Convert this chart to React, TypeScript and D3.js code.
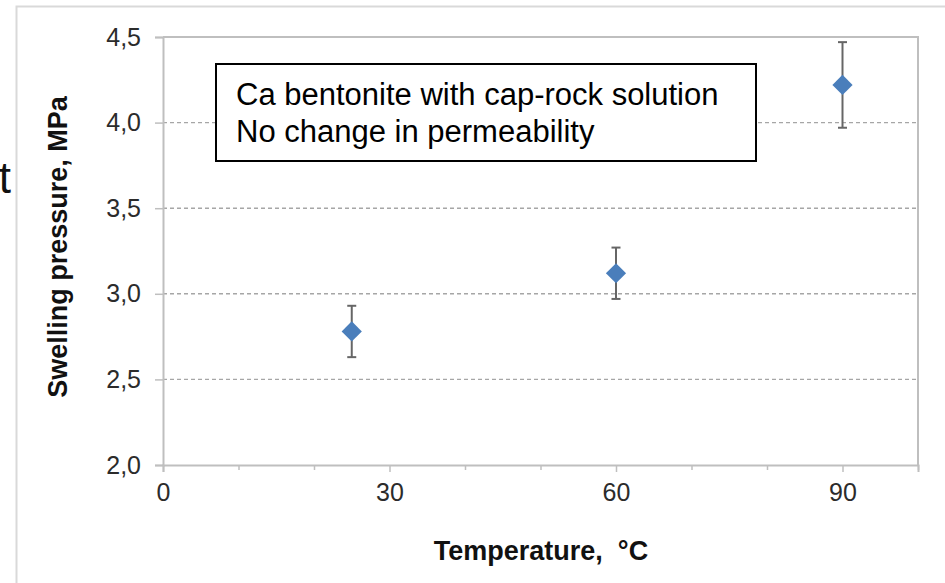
import React, { useEffect, useRef } from 'react';
import * as d3 from 'd3';

const width = 945;
const height = 583;
const margin = { top: 37, right: 27, bottom: 118, left: 163 };

const temperatures = [25, 60, 90];
const pressures = [2.78, 3.12, 4.22];
const errLow = [2.63, 2.97, 3.97];
const errHigh = [2.93, 3.27, 4.47];

const xLabelTicks = [0, 30, 60, 90];
const xMinorTicks = [10, 20, 40, 50, 70, 80, 100];
const yTicks = [2.0, 2.5, 3.0, 3.5, 4.0, 4.5];

const noteLines = ['Ca bentonite with cap-rock solution', 'No change in permeability'];

const font = 'Liberation Sans, Arial, sans-serif';

function App() {
  const ref = useRef<SVGSVGElement | null>(null);

  useEffect(() => {
    const svg = d3.select(ref.current);
    svg.selectAll('*').remove();

    const x = d3.scaleLinear().domain([0, 100]).range([margin.left, width - margin.right]);
    const y = d3.scaleLinear().domain([2, 4.5]).range([height - margin.bottom, margin.top]);

    // outer frame from the source figure
    svg
      .append('rect')
      .attr('x', 16.5)
      .attr('y', 6.5)
      .attr('width', 1000)
      .attr('height', 1000)
      .attr('fill', 'white')
      .attr('stroke', '#d9d9d9')
      .attr('stroke-width', 2);

    // stray letter cut off at the left
    svg
      .append('text')
      .attr('x', 11)
      .attr('y', 193)
      .attr('text-anchor', 'end')
      .attr('font-family', font)
      .attr('font-size', 44)
      .attr('fill', '#111')
      .text('t');

    // gridlines
    svg
      .append('g')
      .selectAll('line')
      .data(yTicks.filter((d) => d > 2 && d < 4.5))
      .enter()
      .append('line')
      .attr('x1', x(0))
      .attr('x2', x(100))
      .attr('y1', (d) => y(d))
      .attr('y2', (d) => y(d))
      .attr('stroke', '#a6a6a6')
      .attr('stroke-width', 1.4)
      .attr('stroke-dasharray', '4,3');

    // plot frame top + right
    svg
      .append('path')
      .attr('d', `M${x(0)},${y(4.5)}H${x(100)}V${y(2)}`)
      .attr('fill', 'none')
      .attr('stroke', '#bfbfbf')
      .attr('stroke-width', 2);

    // y axis
    const yAxis = svg
      .append('g')
      .attr('transform', `translate(${x(0)},0)`)
      .call(
        d3
          .axisLeft(y)
          .tickValues(yTicks)
          .tickSize(8)
          .tickPadding(14)
          .tickFormat((d) => d3.format('.1f')(d as number).replace('.', ','))
      );
    yAxis.select('.domain').attr('stroke', '#bfbfbf').attr('stroke-width', 2);
    yAxis.selectAll('.tick line').attr('stroke', '#bfbfbf').attr('stroke-width', 1.5);
    yAxis
      .selectAll('.tick text')
      .attr('font-family', font)
      .attr('font-size', 25)
      .attr('fill', '#2b2b2b');

    // x axis
    const xAxis = svg
      .append('g')
      .attr('transform', `translate(0,${y(2)})`)
      .call(
        d3
          .axisBottom(x)
          .tickValues(xLabelTicks)
          .tickSize(7)
          .tickPadding(11)
          .tickFormat(d3.format('d'))
      );
    xAxis.select('.domain').attr('stroke', '#bfbfbf').attr('stroke-width', 2);
    xAxis.selectAll('.tick line').attr('stroke', '#bfbfbf').attr('stroke-width', 1.5);
    xAxis
      .selectAll('.tick text')
      .attr('font-family', font)
      .attr('font-size', 25)
      .attr('fill', '#2b2b2b');

    const minor = svg
      .append('g')
      .attr('transform', `translate(0,${y(2)})`)
      .call(d3.axisBottom(x).tickValues(xMinorTicks).tickSize(5).tickFormat(() => ''));
    minor.select('.domain').remove();
    minor.selectAll('.tick line').attr('stroke', '#bfbfbf').attr('stroke-width', 1.5);

    // error bars
    const pts = temperatures.map((t, i) => ({ t, p: pressures[i], lo: errLow[i], hi: errHigh[i] }));
    const eb = svg.append('g').attr('stroke', '#666').attr('stroke-width', 2);
    eb.selectAll('line.v')
      .data(pts)
      .enter()
      .append('line')
      .attr('x1', (d) => x(d.t))
      .attr('x2', (d) => x(d.t))
      .attr('y1', (d) => y(d.lo))
      .attr('y2', (d) => y(d.hi));
    eb.selectAll('line.hi')
      .data(pts)
      .enter()
      .append('line')
      .attr('x1', (d) => x(d.t) - 4.5)
      .attr('x2', (d) => x(d.t) + 4.5)
      .attr('y1', (d) => y(d.hi))
      .attr('y2', (d) => y(d.hi));
    eb.selectAll('line.lo')
      .data(pts)
      .enter()
      .append('line')
      .attr('x1', (d) => x(d.t) - 4.5)
      .attr('x2', (d) => x(d.t) + 4.5)
      .attr('y1', (d) => y(d.lo))
      .attr('y2', (d) => y(d.lo));

    // diamond markers
    const diamond = d3.symbol().type(d3.symbolDiamond2).size(260);
    svg
      .append('g')
      .selectAll('path')
      .data(pts)
      .enter()
      .append('path')
      .attr('d', diamond)
      .attr('transform', (d) => `translate(${x(d.t)},${y(d.p)})`)
      .attr('fill', '#4a7ebb');

    // note box
    svg
      .append('rect')
      .attr('x', 216)
      .attr('y', 64)
      .attr('width', 540)
      .attr('height', 97)
      .attr('fill', 'white')
      .attr('stroke', '#000')
      .attr('stroke-width', 2);
    svg
      .append('g')
      .selectAll('text')
      .data(noteLines)
      .enter()
      .append('text')
      .attr('x', 236)
      .attr('y', (d, i) => 105 + i * 37)
      .attr('font-family', font)
      .attr('font-size', 31)
      .attr('fill', '#000')
      .text((d) => d);

    // axis titles
    svg
      .append('text')
      .attr('x', 541)
      .attr('y', 560)
      .attr('text-anchor', 'middle')
      .attr('font-family', font)
      .attr('font-weight', 'bold')
      .attr('font-size', 27)
      .attr('fill', '#111')
      .text('Temperature,\u00a0 °C');
    svg
      .append('text')
      .attr('transform', `translate(67,247) rotate(-90)`)
      .attr('text-anchor', 'middle')
      .attr('font-family', font)
      .attr('font-weight', 'bold')
      .attr('font-size', 27)
      .attr('fill', '#111')
      .text('Swelling pressure, MPa');
  }, []);

  return (
    <svg
      ref={ref}
      width={width}
      height={height}
      style={{ position: 'absolute', left: 0, top: 0, background: 'white' }}
    />
  );
}

export default App;
